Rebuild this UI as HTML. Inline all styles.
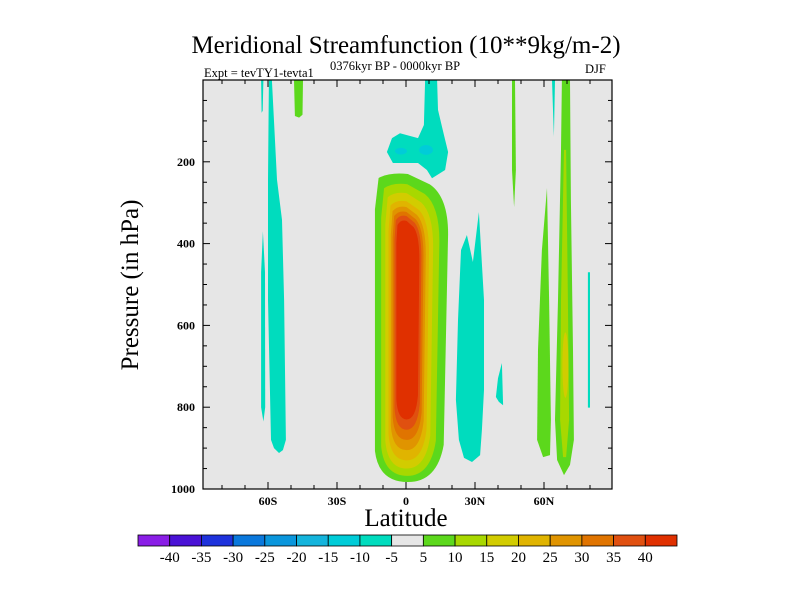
<!DOCTYPE html>
<html><head><meta charset="utf-8"><style>
html,body{margin:0;padding:0;background:#fff;}
svg{display:block;font-family:"Liberation Serif",serif;}
</style></head><body>
<svg id="chart" width="800" height="600" viewBox="0 0 800 600">
<text x="406" y="53" font-size="25" text-anchor="middle">Meridional Streamfunction (10**9kg/m-2)</text>
<text x="204" y="77" font-size="12.5">Expt = tevTY1-tevta1</text>
<text x="330" y="70" font-size="12.5">0376kyr BP - 0000kyr BP</text>
<text x="585" y="73" font-size="12.5">DJF</text>
<text transform="translate(138,285) rotate(-90)" font-size="25" text-anchor="middle">Pressure (in hPa)</text>
<text x="406" y="526" font-size="25" text-anchor="middle">Latitude</text>
<g id="plot"></g>
<g id="axes"></g>
<g id="colorbar"></g>
</svg>
<script>
// ---- data ----
const levelEdges = [-40,-35,-30,-25,-20,-15,-10,-5,5,10,15,20,25,30,35,40];
const levelColors = ["#8a1ee6","#4a12d6","#1e32dc","#0a78dc","#0a96dc","#14b4dc","#00ccd8","#00dcbe","#e6e6e6","#5cd81c","#a8d800","#d2cc00","#e0b400","#e09400","#e07400","#e05010","#e03000"];
const xTickLats = [-60,-30,0,30,60];
const xTickLabels = ["60S","30S","0","30N","60N"];
const yTickPs = [200,400,600,800,1000];
// central positive cell: per level bounds
const cellLevels = [5,10,15,20,25,30,35,40];
const cellLatL = [-13.5,-10.8,-9.0,-7.6,-6.6,-5.8,-5.0,-4.2];
const cellLatR = [18.3,14.5,11.8,10.0,8.6,7.6,6.7,5.8];
const cellPTop = [225,250,272,292,306,318,328,340];
const cellPBot = [983,968,950,930,905,880,855,830];
// other contour regions: [value, [[lat,p],...]]
const regionValues = [-7,-7,-7,7,-7,-7,-7,7,-7,7,7,12,-7];
const regionShapes = [
 [[-59.6,0],[-58.3,0],[-56.1,244],[-53.9,342],[-53,538],[-52.2,880],[-53.5,905],[-55.2,912],[-57.4,900],[-58.7,880],[-60,538],[-60,244]],
 [[-62.2,370],[-61.3,470],[-61.2,800],[-62,835],[-63,800],[-63,470]],
 [[-63,0],[-62,0],[-62.3,75],[-62.8,80]],
 [[-48.7,0],[-44.8,0],[-45,85],[-46.5,92],[-48.3,88]],
 [[8.3,0],[13.5,0],[13.9,73],[16.5,134],[18.3,176],[17,220],[11.3,240],[9.1,220],[5.2,203],[0.9,203],[-5.7,203],[-8.3,176],[-6.1,142],[-2.6,130],[5.2,142],[7.8,110]],
 [[31.7,323],[33.9,538],[33.9,758],[33,856],[32.2,917],[28.7,934],[25.2,924],[23,880],[21.7,782],[22.6,587],[23.9,416],[26.5,379],[29.1,445]],
 [[41.7,692],[42.2,795],[40.4,787],[39.1,775],[40,729]],
 [[46.1,0],[47.4,0],[47.8,220],[47,311],[46.1,220]],
 [[63.5,0],[64.8,0],[64.3,139]],
 [[61.3,264],[62.2,538],[63,831],[62.6,917],[59.6,922],[57,880],[57.4,660],[59.1,416]],
 [[67.8,0],[71.3,0],[71.7,293],[72.6,660],[73,880],[71.3,941],[68.7,966],[65.7,929],[64.8,831],[66.1,538],[67.4,171]],
 [[68.7,171],[69.6,171],[70.4,538],[70.9,831],[69.6,922],[68.3,922],[67,831],[67.4,538]],
 [[79.1,470],[80,470],[80,801],[79.1,801]]
];
// small spots: lat, p, rLat, rP, value
const spotLat = [-2.2,8.7,69.3];
const spotP = [174,171,697];
const spotRLat = [2.6,3,1.3];
const spotRP = [8,12,80];
const spotVal = [-12,-12,17];

// ---- scales ----
const X0=203,X1=612,Y0=80,Y1=489;
const xs = lat => 406 + lat*2.3;
const ys = p => Y0 + p*(Y1-Y0)/1000;
function colorFor(v){
  let i=0; while(i<levelEdges.length && v>=levelEdges[i]) i++;
  if(v>-5 && v<5) return levelColors[8];
  return levelColors[i];
}
const NS="http://www.w3.org/2000/svg";
function mk(tag,attrs,parent){const e=document.createElementNS(NS,tag);for(const k in attrs)e.setAttribute(k,attrs[k]);parent.appendChild(e);return e;}

const plot=document.getElementById('plot');
const bg=mk('rect',{x:X0,y:Y0,width:X1-X0,height:Y1-Y0,fill:"#e6e6e6"},plot);


const clip=mk('clipPath',{id:'pc'},plot);mk('rect',{x:X0,y:Y0,width:X1-X0,height:Y1-Y0},clip);
const g=mk('g',{'clip-path':'url(#pc)'},plot);

regionShapes.forEach((pts,i)=>{
  const d=pts.map((q,j)=>(j?'L':'M')+xs(q[0]).toFixed(1)+','+ys(q[1]).toFixed(1)).join('')+'Z';
  const e=mk('path',{d:d,fill:colorFor(regionValues[i])},g);
  
  
});
cellLevels.forEach((v,i)=>{
  const xl=xs(cellLatL[i]),xr=xs(cellLatR[i]),yt=ys(cellPTop[i]),yb=ys(cellPBot[i]);
  const w=xr-xl, h=yb-yt;
  // tapered column: narrower top-right shoulder, rounded bottom
  const d=`M${xl+w*0.05},${yt+6} Q${xl+w*0.2},${yt} ${xl+w*0.45},${yt+2} L${xl+w*0.75},${yt+h*0.04} Q${xr},${yt+h*0.08} ${xr},${yt+h*0.2} L${xr-w*0.06},${yb-h*0.12} Q${xr-w*0.15},${yb} ${xl+w*0.45},${yb} Q${xl+w*0.05},${yb} ${xl},${yb-h*0.1} L${xl},${yt+h*0.12} Z`;
  const e=mk('path',{d:d,fill:colorFor(v)},g);
  
  
});
spotLat.forEach((l,i)=>{
  const e=mk('ellipse',{cx:xs(l),cy:ys(spotP[i]),rx:spotRLat[i]*2.3,ry:spotRP[i]*0.409,fill:colorFor(spotVal[i])},g);
  
  
});

// ---- axes ----
const ax=document.getElementById('axes');
const frame=mk('rect',{x:X0,y:Y0,width:X1-X0,height:Y1-Y0,fill:"none",stroke:"#000","stroke-width":1.2},ax);


for(let lat=-80;lat<=80;lat+=10){
  const x=xs(lat),L=(lat%30===0)?7:4;
  mk('line',{x1:x,y1:Y1,x2:x,y2:Y1-L,stroke:"#000"},ax);
  mk('line',{x1:x,y1:Y0,x2:x,y2:Y0+L,stroke:"#000"},ax);
}
for(let p=50;p<1000;p+=50){
  const y=ys(p),L=(p%200===0)?7:4;
  mk('line',{x1:X0,y1:y,x2:X0+L,y2:y,stroke:"#000"},ax);
  mk('line',{x1:X1,y1:y,x2:X1-L,y2:y,stroke:"#000"},ax);
}
xTickLats.forEach((l,i)=>{
  const t=mk('text',{x:xs(l),y:Y1+16,'font-size':12,'font-weight':'bold','text-anchor':'middle'},ax);
  t.textContent=xTickLabels[i];
  
  
});
yTickPs.forEach(p=>{
  const t=mk('text',{x:X0-8,y:ys(p)+4,'font-size':12,'font-weight':'bold','text-anchor':'end'},ax);
  t.textContent=String(p);
  
  
});

// ---- colorbar ----
const cb=document.getElementById('colorbar');
const CB0=138,CB1=677,CBy=535,CBh=11,bw=(CB1-CB0)/levelColors.length;
levelColors.forEach((c,i)=>{
  const r=mk('rect',{x:CB0+i*bw,y:CBy,width:bw,height:CBh,fill:c,stroke:"#000","stroke-width":0.8},cb);
  
  
});
levelEdges.forEach((v,i)=>{
  const t=mk('text',{x:CB0+(i+1)*bw,y:CBy+27,'font-size':15,'text-anchor':'middle'},cb);
  t.textContent=String(v);
  
  
});
</script>
</body></html>
